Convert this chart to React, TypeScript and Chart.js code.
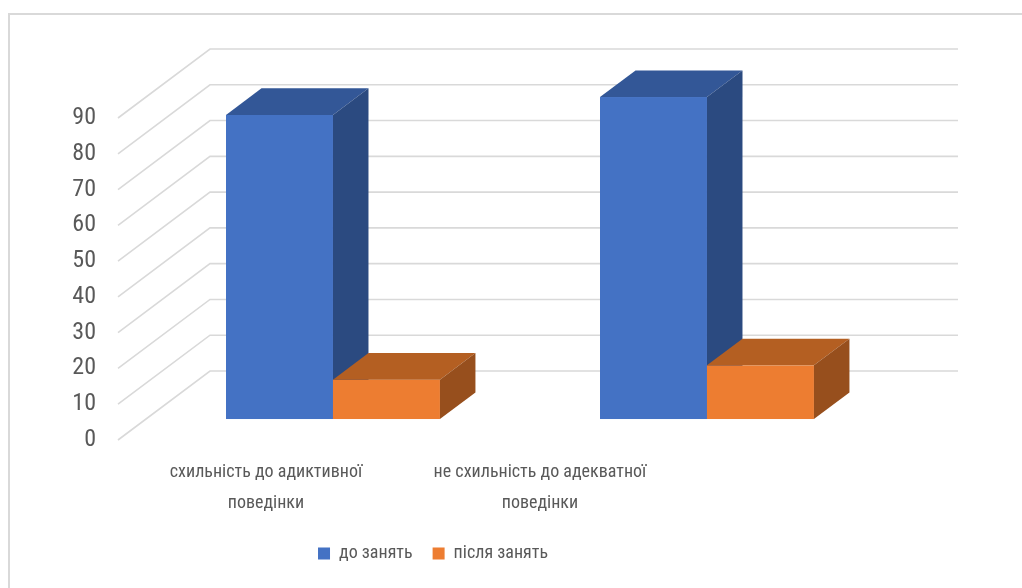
import React, { useEffect, useRef } from 'react';
import { Chart, registerables } from 'chart.js';

Chart.register(...registerables);

// ---- data ----
const categories = ['схильність до адиктивної поведінки', 'не схильність до адекватної поведінки'];
const categoryLines = [
  ['схильність до адиктивної', 'поведінки'],
  ['не схильність до адекватної', 'поведінки'],
];
const seriesNames = ['до занять', 'після занять'];
const beforeValues = [85, 90];
const afterValues = [11, 15];
const yMin = 0;
const yMax = 90;
const yStep = 10;

// ---- style / geometry ----
const FONT = "'Liberation Sans Narrow', 'Roboto Condensed', 'DejaVu Sans Condensed', sans-serif";
const TEXT = '#595959';
const GRID = '#D9D9D9';
const DEPTH_X = 92;
const DEPTH_Y = 69;
const BAR_FRONT = 0.304;
const BAR_BACK = 0.69;
const faceColors = [
  { front: '#4472C4', top: '#335797', side: '#2B4A80' },
  { front: '#ED7D31', top: '#B45F22', side: '#974F1D' },
];
const LABEL_MIN = 0.46;
const LABEL_MAX = 3.19;

const threeD = {
  id: 'threeD',
  beforeDraw(chart: any) {
    const ctx = chart.ctx;
    ctx.save();
    ctx.strokeStyle = GRID;
    ctx.lineWidth = 2;
    ctx.strokeRect(9, 14, chart.width + 20, chart.height + 20);
    ctx.restore();
  },
  beforeDatasetsDraw(chart: any) {
    const { ctx, chartArea } = chart;
    const y = chart.scales.y;
    ctx.save();
    ctx.strokeStyle = GRID;
    ctx.lineWidth = 1.6;
    y.ticks.forEach((t: any) => {
      const py = y.getPixelForValue(t.value);
      ctx.beginPath();
      ctx.moveTo(chartArea.left, py);
      ctx.lineTo(chartArea.left + DEPTH_X, py - DEPTH_Y);
      ctx.lineTo(chartArea.right + DEPTH_X, py - DEPTH_Y);
      ctx.stroke();
    });
    ctx.restore();
  },
  beforeDatasetDraw() {
    return false;
  },
  afterDatasetsDraw(chart: any) {
    const ctx = chart.ctx;
    const ox = BAR_FRONT * DEPTH_X;
    const oy = -BAR_FRONT * DEPTH_Y;
    const bx = (BAR_BACK - BAR_FRONT) * DEPTH_X;
    const by = -(BAR_BACK - BAR_FRONT) * DEPTH_Y;
    const n = chart.data.labels.length;
    ctx.save();
    for (let i = 0; i < n; i++) {
      chart.data.datasets.forEach((_: any, d: number) => {
        const meta = chart.getDatasetMeta(d);
        const el = meta.data[i];
        if (!el) return;
        const p = el.getProps(['x', 'y', 'base', 'width'], true);
        const l = p.x - p.width / 2 + ox;
        const r = p.x + p.width / 2 + ox;
        const top = Math.min(p.y, p.base) + oy;
        const bot = Math.max(p.y, p.base) + oy;
        const c = faceColors[d];
        ctx.fillStyle = c.front;
        ctx.fillRect(l, top, r - l, bot - top);
        ctx.fillStyle = c.top;
        ctx.beginPath();
        ctx.moveTo(l, top);
        ctx.lineTo(l + bx, top + by);
        ctx.lineTo(r + bx, top + by);
        ctx.lineTo(r, top);
        ctx.closePath();
        ctx.fill();
        ctx.fillStyle = c.side;
        ctx.beginPath();
        ctx.moveTo(r, top);
        ctx.lineTo(r + bx, top + by);
        ctx.lineTo(r + bx, bot + by);
        ctx.lineTo(r, bot);
        ctx.closePath();
        ctx.fill();
      });
    }
    ctx.restore();
  },
};

export default function App() {
  const ref = useRef<HTMLCanvasElement>(null);
  useEffect(() => {
    if (!ref.current) return;
    const chart = new Chart(ref.current, {
      type: 'bar',
      data: {
        labels: categories,
        datasets: [
          { label: seriesNames[0], data: beforeValues, backgroundColor: faceColors[0].front, borderWidth: 0 },
          { label: seriesNames[1], data: afterValues, backgroundColor: faceColors[1].front, borderWidth: 0 },
        ],
      },
      options: {
        animation: false,
        responsive: true,
        maintainAspectRatio: false,
        layout: { padding: { left: 0, top: 118, right: 156, bottom: 15.5 } },
        datasets: { bar: { categoryPercentage: 0.572, barPercentage: 1 } },
        plugins: {
          tooltip: { enabled: false },
          legend: {
            position: 'bottom',
            labels: {
              boxWidth: 12,
              boxHeight: 12,
              padding: 20,
              color: TEXT,
              font: { family: FONT, size: 18 },
            },
          },
        },
        scales: {
          x: {
            type: 'category',
            display: false,
            offset: true,
            grid: { display: false },
          },
          xl: {
            type: 'linear',
            position: 'bottom',
            offset: false,
            min: LABEL_MIN,
            max: LABEL_MAX,
            grid: { display: false, drawTicks: false },
            border: { display: false },
            afterBuildTicks: (scale: any) => {
              scale.ticks = categoryLines.map((_, i) => ({ value: i + 1 }));
            },
            afterFit: (scale: any) => {
              scale.height = 84.5;
            },
            ticks: {
              autoSkip: false,
              maxRotation: 0,
              padding: 17,
              color: TEXT,
              font: { family: FONT, size: 18, lineHeight: 1.72 },
              callback: (v: any) => categoryLines[Math.round(v) - 1] ?? '',
            },
          },
          y: {
            min: yMin,
            max: yMax,
            grid: { display: false, drawTicks: false },
            border: { display: false },
            afterFit: (scale: any) => {
              scale.width = 118;
            },
            ticks: {
              stepSize: yStep,
              padding: 22,
              color: TEXT,
              font: { family: FONT, size: 24 },
            },
          },
        },
      },
      plugins: [threeD],
    });
    return () => chart.destroy();
  }, []);
  return (
    <div style={{ position: 'fixed', left: 0, top: 0, width: 1022, height: 588 }}>
      <canvas ref={ref} />
    </div>
  );
}
